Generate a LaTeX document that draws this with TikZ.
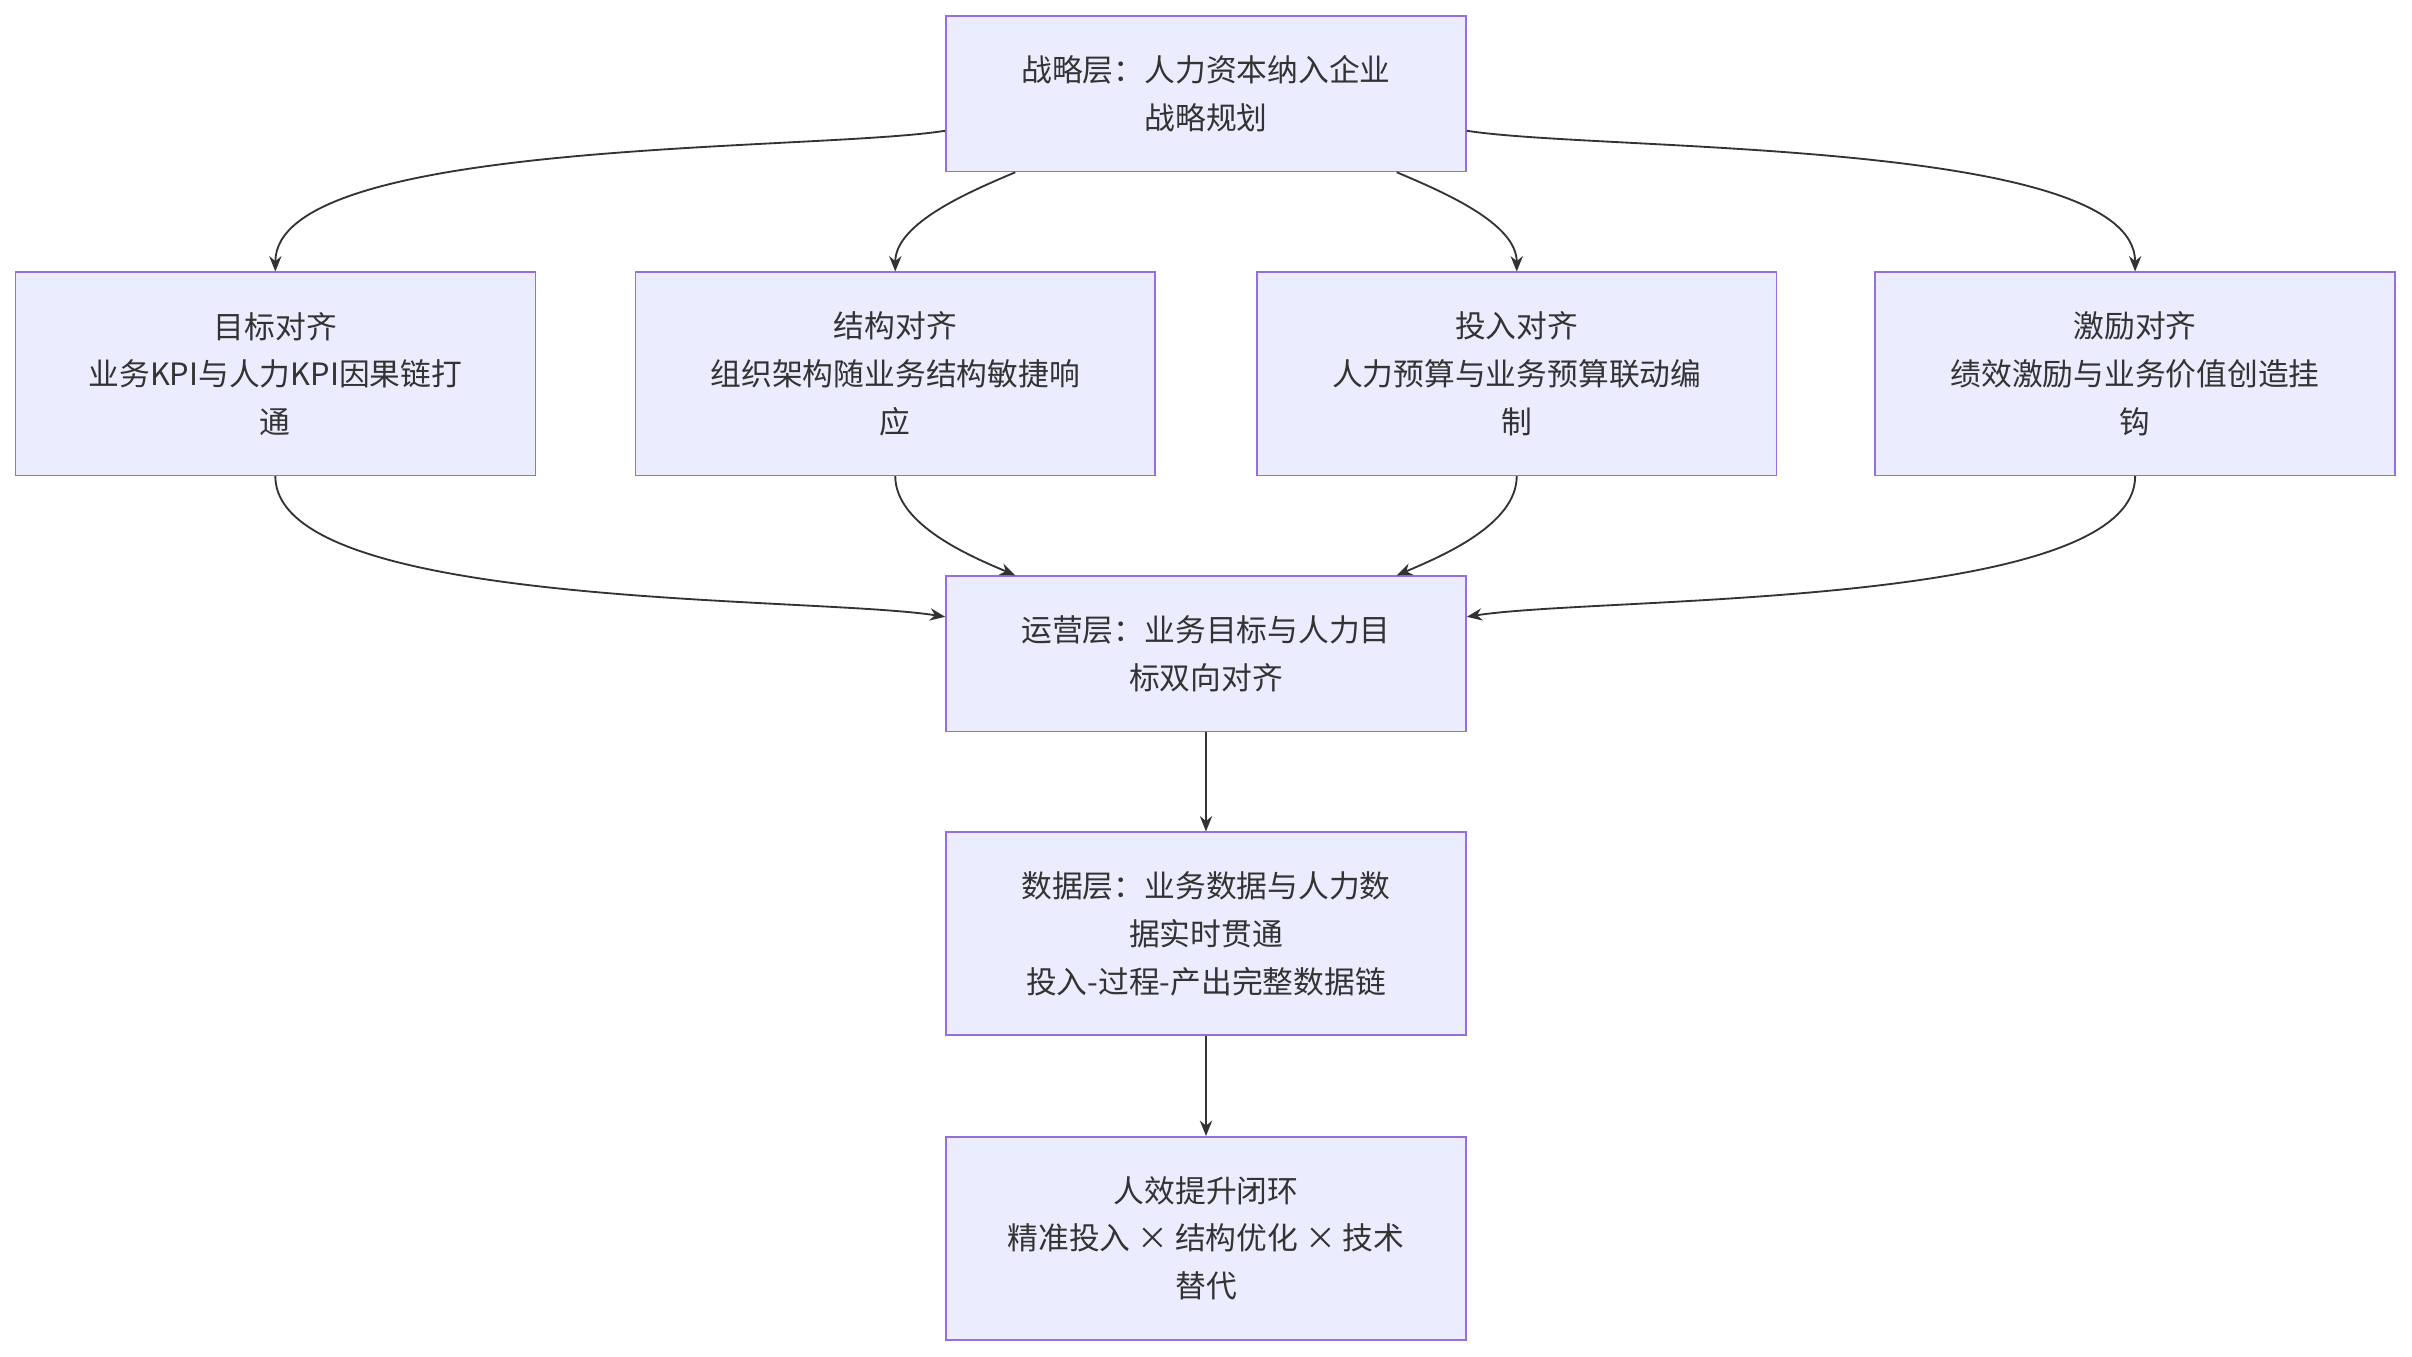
\documentclass[tikz,border=0pt]{standalone}
\usepackage{fontspec}
\setmainfont{Noto Sans CJK SC}
\usetikzlibrary{arrows.meta,positioning,calc}
\definecolor{boxfill}{HTML}{ECECFF}
\definecolor{boxline}{HTML}{9370DB}
\definecolor{inkgray}{HTML}{333333}

\begin{document}
\begin{tikzpicture}[x=1pt, y=-1pt,
    box/.style={draw=boxline, fill=boxfill, line width=1pt, text=inkgray,
        minimum width=338pt, align=center, font=\fontsize{20}{31}\selectfont},
    edge/.style={draw=inkgray, line width=1.2pt, -{Stealth[length=10pt,width=8pt]}}]
    \useasboundingbox (0,0) rectangle (1568,882);

    % Layers
    \node[box, minimum height=101pt] (strat) at (784,61) {战略层：人力资本纳入企业\\战略规划};
    \node[box, minimum height=101pt] (ops) at (784,425) {运营层：业务目标与人力目\\标双向对齐};
    \node[box, minimum height=132pt] (data) at (784,607) {数据层：业务数据与人力数\\据实时贯通\\投入-过程-产出完整数据链};
    \node[box, minimum height=132pt] (loop) at (784,805) {人效提升闭环\\精准投入 × 结构优化 × 技术\\替代};

    % Alignment row
    \node[box, minimum height=132pt] (goal) at (179,243) {目标对齐\\业务KPI与人力KPI因果链打\\通};
    \node[box, minimum height=132pt] (struct) at (582,243) {结构对齐\\组织架构随业务结构敏捷响\\应};
    \node[box, minimum height=132pt] (invest) at (986,243) {投入对齐\\人力预算与业务预算联动编\\制};
    \node[box, minimum height=132pt] (incent) at (1388,243) {激励对齐\\绩效激励与业务价值创造挂\\钩};

    % Strategy to alignment
    \draw[edge] ([yshift=-24pt]strat.west) to[out=189, in=90, looseness=0.5] (goal.north);
    \draw[edge] ([xshift=-124pt]strat.south) to[out=203, in=90, looseness=0.8] (struct.north);
    \draw[edge] ([xshift=124pt]strat.south) to[out=-23, in=90, looseness=0.8] (invest.north);
    \draw[edge] ([yshift=-24pt]strat.east) to[out=-9, in=90, looseness=0.5] (incent.north);

    % Alignment to operations
    \draw[edge] (goal.south) to[out=-90, in=171, looseness=0.5] ([yshift=24pt]ops.west);
    \draw[edge] (struct.south) to[out=-90, in=157, looseness=0.8] ([xshift=-124pt]ops.north);
    \draw[edge] (invest.south) to[out=-90, in=23, looseness=0.8] ([xshift=124pt]ops.north);
    \draw[edge] (incent.south) to[out=-90, in=9, looseness=0.5] ([yshift=24pt]ops.east);

    % Down the chain
    \draw[edge] (ops) -- (data);
    \draw[edge] (data) -- (loop);
\end{tikzpicture}
\end{document}
